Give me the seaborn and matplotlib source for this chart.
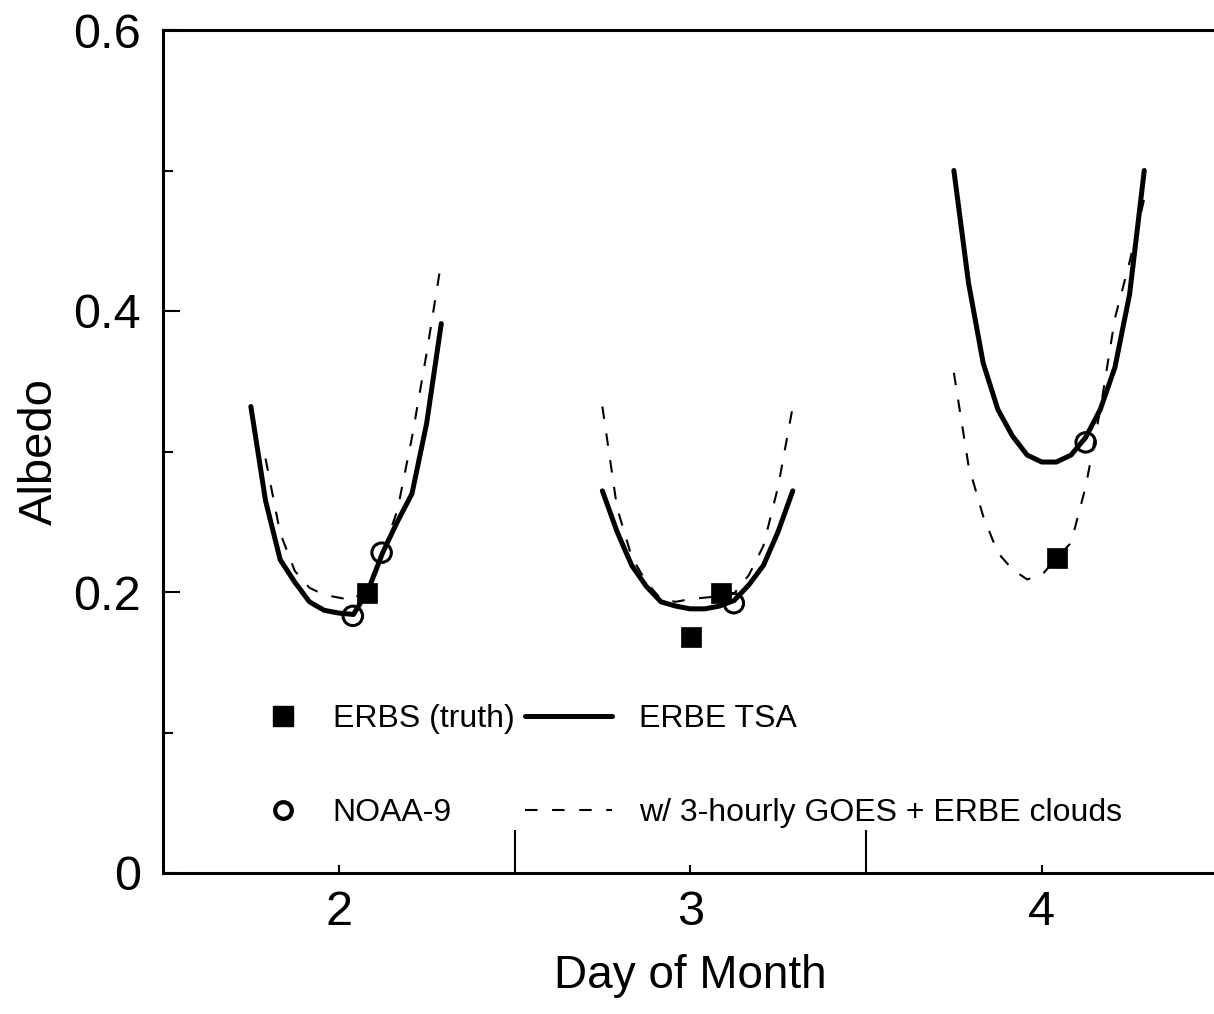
import numpy as np
import pandas as pd
import matplotlib
matplotlib.use("Agg")
import matplotlib.pyplot as plt
from matplotlib.lines import Line2D
import seaborn as sns

# hourly offsets (hours from midnight of each day) of the curve points
hour_offsets = [-6, -5, -4, -3, -2, -1, 0, 1, 2, 3, 4, 5, 6, 7]
days = [2, 3, 4]

# ERBE TSA (solid)
tsa_day2 = [0.332, 0.265, 0.223, 0.207, 0.193, 0.187, 0.185, 0.184, 0.201, 0.228, 0.250, 0.270, 0.320, 0.391]
tsa_day3 = [0.272, 0.243, 0.219, 0.204, 0.193, 0.190, 0.188, 0.188, 0.190, 0.194, 0.205, 0.219, 0.243, 0.272]
tsa_day4 = [0.500, 0.420, 0.363, 0.330, 0.311, 0.2975, 0.2925, 0.2925, 0.2975, 0.310, 0.330, 0.360, 0.412, 0.500]

# w/ 3-hourly GOES + ERBE clouds (dashed); first hour missing on day 2
goes_day2 = [np.nan, 0.295, 0.242, 0.215, 0.203, 0.198, 0.196, 0.194, 0.205, 0.228, 0.258, 0.310, 0.370, 0.435]
goes_day3 = [0.332, 0.260, 0.225, 0.207, 0.195, 0.193, 0.195, 0.196, 0.197, 0.199, 0.212, 0.233, 0.275, 0.332]
goes_day4 = [0.356, 0.290, 0.254, 0.228, 0.216, 0.209, 0.212, 0.224, 0.235, 0.275, 0.330, 0.395, 0.435, 0.480]

# ERBS (truth) squares and NOAA-9 circles
erbs_x = [2.079, 3.002, 3.088, 4.043]
erbs_y = [0.199, 0.168, 0.199, 0.224]
noaa_x = [2.040, 2.122, 3.124, 4.125]
noaa_y = [0.183, 0.228, 0.192, 0.3065]

y_ticks = [0, 0.2, 0.4, 0.6]
y_tick_labels = ["0", "0.2", "0.4", "0.6"]
y_minor = [0.1, 0.3, 0.5]
x_ticks = [2, 3, 4]
x_tick_labels = ["2", "3", "4"]
day_breaks = [2.5, 3.5]

rows = []
for d, tsa, goes in zip(days, [tsa_day2, tsa_day3, tsa_day4], [goes_day2, goes_day3, goes_day4]):
    for h, a, g in zip(hour_offsets, tsa, goes):
        rows.append({"day": d, "x": d + h / 24, "tsa": a, "goes": g})
df = pd.DataFrame(rows)

sns.set_style("ticks", {"text.color": "black", "axes.labelcolor": "black",
                        "xtick.color": "black", "ytick.color": "black"})
plt.rcParams["font.family"] = ["Liberation Sans", "DejaVu Sans"]

fig = plt.figure(figsize=(12.14, 10.14), dpi=100)
ax = fig.add_axes([163 / 1214, 1 - 873 / 1014, 1054.5 / 1214, 843 / 1014])

# solid curves
sns.lineplot(data=df, x="x", y="tsa", units="day", estimator=None, color="black",
             linewidth=3.6, ax=ax, sort=False)
n_solid = len(ax.lines)
# dashed curves
sns.lineplot(data=df.dropna(), x="x", y="goes", units="day", estimator=None, color="black",
             linewidth=1.5, ax=ax, sort=False)
for ln in ax.lines[n_solid:]:
    ln.set_dashes([6, 7])

sns.scatterplot(x=erbs_x, y=erbs_y, marker="s", s=15 ** 2, color="black",
                edgecolor="black", linewidth=0.5, ax=ax, zorder=5)
sns.scatterplot(x=noaa_x, y=noaa_y, marker="o", s=14 ** 2, color="black",
                facecolors="none", edgecolor="black", linewidth=2.2, ax=ax, zorder=6)

ax.set_xlim(1.5, 4.5)
ax.set_ylim(0, 0.6)
ax.set_xticks(x_ticks)
ax.set_xticklabels(x_tick_labels)
ax.set_xticks(day_breaks, minor=True)
ax.set_yticks(y_ticks)
ax.set_yticklabels(y_tick_labels)
ax.set_yticks(y_minor, minor=True)

ax.tick_params(axis="both", which="both", direction="in", width=1.5, colors="black", labelsize=35)
ax.tick_params(axis="y", which="major", length=12.2, pad=16)
ax.tick_params(axis="y", which="minor", length=7.2)
ax.tick_params(axis="x", which="major", length=5.8, pad=12)
ax.tick_params(axis="x", which="minor", length=31)

for side in ["left", "bottom", "top"]:
    ax.spines[side].set_linewidth(2.2)
    ax.spines[side].set_color("black")
ax.spines["right"].set_visible(False)

ax.set_xlabel("Day of Month", fontsize=33, labelpad=14, color="black")
ax.set_ylabel("Albedo", fontsize=34, labelpad=8, color="black")

# legend: markers column and lines column
marker_handles = [
    Line2D([], [], marker="s", markersize=15, color="black", linestyle="none"),
    Line2D([], [], marker="o", markersize=12, markerfacecolor="none", markeredgecolor="black",
           markeredgewidth=3, linestyle="none"),
]
line_handles = [
    Line2D([], [], color="black", linewidth=3.6),
    Line2D([], [], color="black", linewidth=1.5, dashes=[6, 7]),
]
leg1 = ax.legend(marker_handles, ["ERBS (truth)", "NOAA-9"], loc="center left",
                 bbox_to_anchor=(0.0835, 0.127), frameon=False, fontsize=23,
                 handlelength=2.0, handletextpad=0.56, labelspacing=2.0,
                 borderpad=0, borderaxespad=0, labelcolor="black")
ax.add_artist(leg1)
ax.legend(line_handles, ["ERBE TSA", "w/ 3-hourly GOES + ERBE clouds"], loc="center left",
          bbox_to_anchor=(0.343, 0.127), frameon=False, fontsize=23,
          handlelength=2.72, handletextpad=0.87, labelspacing=2.0,
          borderpad=0, borderaxespad=0, labelcolor="black")

fig.savefig("out.png", dpi=100)
